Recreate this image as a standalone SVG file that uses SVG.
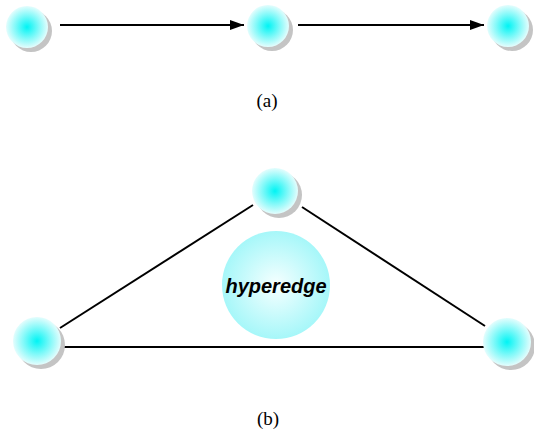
<svg xmlns="http://www.w3.org/2000/svg" width="534" height="433" viewBox="0 0 534 433">
<defs>
<radialGradient id="ng" cx="0.5" cy="0.5" r="0.5">
<stop offset="0" stop-color="#00f4f4"/>
<stop offset="0.55" stop-color="#80f9f9"/>
<stop offset="1" stop-color="#e4fdfd"/>
</radialGradient>
<radialGradient id="hg" cx="0.5" cy="0.5" r="0.5">
<stop offset="0" stop-color="#f6ffff"/>
<stop offset="1" stop-color="#a6f7f9"/>
</radialGradient>
<marker id="ah" markerWidth="14" markerHeight="10" refX="14" refY="5" orient="auto" markerUnits="userSpaceOnUse">
<path d="M0,0 L14,5 L0,10 Z" fill="#000"/>
</marker>
</defs>
<style>
.sh{fill:#c4c4c4}
.nd{fill:url(#ng)}
.ln{stroke:#000;stroke-width:2;fill:none}
.cap{font-family:"Liberation Serif",serif;font-size:19px;fill:#000}
.he{font-family:"Liberation Sans",Arial,sans-serif;font-size:20px;font-weight:bold;font-style:italic;fill:#000}
</style>
<g id="connectors">
<line class="ln" x1="60" y1="25" x2="244" y2="25" marker-end="url(#ah)"/>
<line class="ln" x1="298" y1="25" x2="484" y2="25" marker-end="url(#ah)"/>
<line class="ln" x1="253" y1="205" x2="60" y2="328"/>
<line class="ln" x1="302" y1="207" x2="485" y2="326"/>
<line class="ln" x1="61" y1="347" x2="484" y2="347"/>
</g>
<g id="a1"><circle class="sh" cx="31" cy="31" r="21"/><circle class="nd" cx="27" cy="27" r="21"/></g>
<g id="a2"><circle class="sh" cx="272" cy="30" r="21"/><circle class="nd" cx="268" cy="26" r="21"/></g>
<g id="a3"><circle class="sh" cx="512" cy="30" r="21"/><circle class="nd" cx="508" cy="26" r="21"/></g>
<text class="cap" x="267" y="107" text-anchor="middle">(a)</text>
<g id="b-top"><circle class="sh" cx="279" cy="195" r="23"/><circle class="nd" cx="275" cy="191" r="23"/></g>
<g id="hyperedge"><circle cx="276" cy="285" r="54" fill="url(#hg)"/><text class="he" x="276" y="293" text-anchor="middle">hyperedge</text></g>
<g id="b-left"><circle class="sh" cx="41" cy="345" r="24"/><circle class="nd" cx="37" cy="341" r="24"/></g>
<g id="b-right"><circle class="sh" cx="511" cy="346" r="24"/><circle class="nd" cx="507" cy="342" r="24"/></g>
<text class="cap" x="268" y="425" text-anchor="middle">(b)</text>
</svg>
